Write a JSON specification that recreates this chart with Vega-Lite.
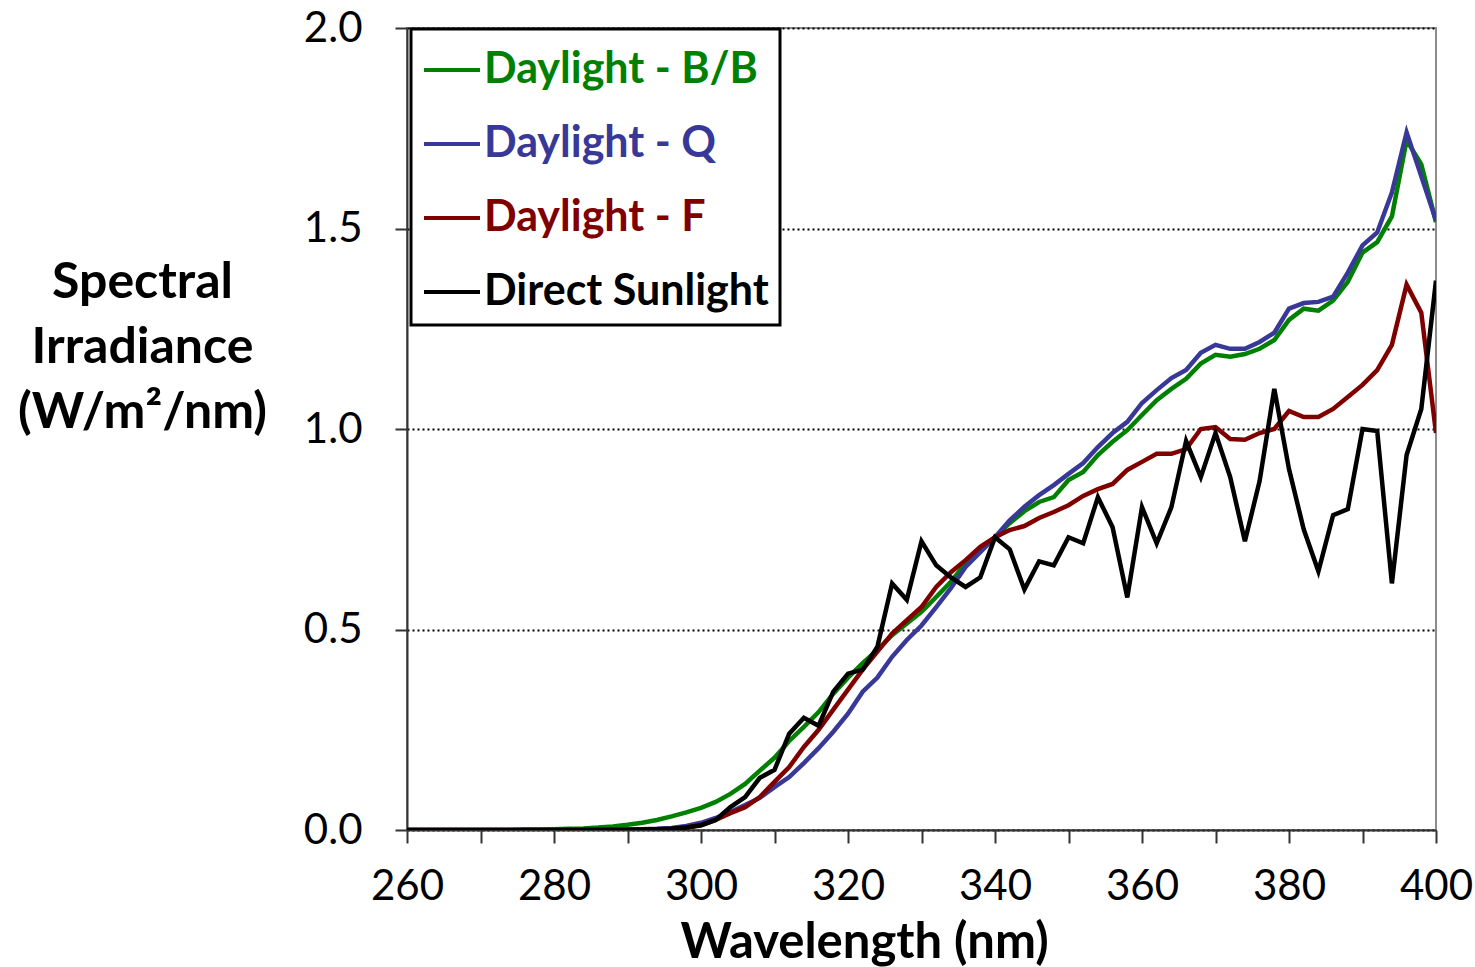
{
  "$schema": "https://vega.github.io/schema/vega-lite/v6.json",
  "autosize": "none",
  "width": 1029,
  "height": 802,
  "padding": {"left": 407, "top": 28, "right": 39, "bottom": 137},
  "background": "white",
  "config": {"view": {"stroke": "#8c8c8c", "strokeWidth": 2}, "font": "Lato"},
  "data": {"values": [
    {"wl":260,"BB":0,"Q":0,"F":0,"DS":0},
    {"wl":262,"BB":0,"Q":0,"F":0,"DS":0},
    {"wl":264,"BB":0,"Q":0,"F":0,"DS":0},
    {"wl":266,"BB":0,"Q":0,"F":0,"DS":0},
    {"wl":268,"BB":0,"Q":0,"F":0,"DS":0},
    {"wl":270,"BB":0,"Q":0,"F":0,"DS":0},
    {"wl":272,"BB":0,"Q":0,"F":0,"DS":0},
    {"wl":274,"BB":0,"Q":0,"F":0,"DS":0},
    {"wl":276,"BB":0.001,"Q":0,"F":0,"DS":0},
    {"wl":278,"BB":0.001,"Q":0,"F":0,"DS":0},
    {"wl":280,"BB":0.002,"Q":0,"F":0,"DS":0},
    {"wl":282,"BB":0.003,"Q":0,"F":0,"DS":0},
    {"wl":284,"BB":0.004,"Q":0,"F":0,"DS":0},
    {"wl":286,"BB":0.006,"Q":0.001,"F":0.001,"DS":0},
    {"wl":288,"BB":0.009,"Q":0.001,"F":0.001,"DS":0},
    {"wl":290,"BB":0.013,"Q":0.001,"F":0.001,"DS":0},
    {"wl":292,"BB":0.018,"Q":0.002,"F":0.002,"DS":0.001},
    {"wl":294,"BB":0.025,"Q":0.003,"F":0.002,"DS":0.002},
    {"wl":296,"BB":0.034,"Q":0.005,"F":0.003,"DS":0.003},
    {"wl":298,"BB":0.044,"Q":0.01,"F":0.006,"DS":0.006},
    {"wl":300,"BB":0.055,"Q":0.018,"F":0.012,"DS":0.012},
    {"wl":302,"BB":0.07,"Q":0.03,"F":0.025,"DS":0.025},
    {"wl":304,"BB":0.09,"Q":0.045,"F":0.042,"DS":0.057},
    {"wl":306,"BB":0.115,"Q":0.062,"F":0.057,"DS":0.082},
    {"wl":308,"BB":0.148,"Q":0.08,"F":0.082,"DS":0.13},
    {"wl":310,"BB":0.18,"Q":0.107,"F":0.12,"DS":0.15},
    {"wl":312,"BB":0.222,"Q":0.132,"F":0.157,"DS":0.24},
    {"wl":314,"BB":0.257,"Q":0.167,"F":0.207,"DS":0.28},
    {"wl":316,"BB":0.294,"Q":0.204,"F":0.25,"DS":0.26},
    {"wl":318,"BB":0.34,"Q":0.245,"F":0.3,"DS":0.345},
    {"wl":320,"BB":0.38,"Q":0.29,"F":0.35,"DS":0.39},
    {"wl":322,"BB":0.416,"Q":0.345,"F":0.4,"DS":0.4},
    {"wl":324,"BB":0.449,"Q":0.38,"F":0.445,"DS":0.457},
    {"wl":326,"BB":0.486,"Q":0.432,"F":0.49,"DS":0.615},
    {"wl":328,"BB":0.515,"Q":0.474,"F":0.523,"DS":0.574},
    {"wl":330,"BB":0.544,"Q":0.51,"F":0.556,"DS":0.72},
    {"wl":332,"BB":0.581,"Q":0.556,"F":0.606,"DS":0.66},
    {"wl":334,"BB":0.619,"Q":0.603,"F":0.643,"DS":0.63},
    {"wl":336,"BB":0.665,"Q":0.656,"F":0.673,"DS":0.606},
    {"wl":338,"BB":0.703,"Q":0.693,"F":0.706,"DS":0.63},
    {"wl":340,"BB":0.73,"Q":0.73,"F":0.73,"DS":0.73},
    {"wl":342,"BB":0.765,"Q":0.772,"F":0.748,"DS":0.7},
    {"wl":344,"BB":0.795,"Q":0.806,"F":0.758,"DS":0.6},
    {"wl":346,"BB":0.818,"Q":0.835,"F":0.778,"DS":0.67},
    {"wl":348,"BB":0.83,"Q":0.86,"F":0.793,"DS":0.66},
    {"wl":350,"BB":0.873,"Q":0.888,"F":0.81,"DS":0.73},
    {"wl":352,"BB":0.893,"Q":0.915,"F":0.833,"DS":0.715},
    {"wl":354,"BB":0.935,"Q":0.955,"F":0.85,"DS":0.83},
    {"wl":356,"BB":0.968,"Q":0.99,"F":0.863,"DS":0.755},
    {"wl":358,"BB":0.997,"Q":1.018,"F":0.898,"DS":0.58},
    {"wl":360,"BB":1.035,"Q":1.065,"F":0.918,"DS":0.805},
    {"wl":362,"BB":1.072,"Q":1.097,"F":0.938,"DS":0.715},
    {"wl":364,"BB":1.1,"Q":1.127,"F":0.938,"DS":0.805},
    {"wl":366,"BB":1.125,"Q":1.147,"F":0.95,"DS":0.97},
    {"wl":368,"BB":1.163,"Q":1.19,"F":1.0,"DS":0.88},
    {"wl":370,"BB":1.185,"Q":1.21,"F":1.005,"DS":0.99},
    {"wl":372,"BB":1.18,"Q":1.2,"F":0.975,"DS":0.88},
    {"wl":374,"BB":1.187,"Q":1.2,"F":0.973,"DS":0.72},
    {"wl":376,"BB":1.2,"Q":1.217,"F":0.99,"DS":0.87},
    {"wl":378,"BB":1.222,"Q":1.24,"F":1.0,"DS":1.1},
    {"wl":380,"BB":1.272,"Q":1.3,"F":1.045,"DS":0.9},
    {"wl":382,"BB":1.3,"Q":1.314,"F":1.03,"DS":0.75},
    {"wl":384,"BB":1.295,"Q":1.317,"F":1.03,"DS":0.645},
    {"wl":386,"BB":1.32,"Q":1.33,"F":1.05,"DS":0.785},
    {"wl":388,"BB":1.367,"Q":1.39,"F":1.08,"DS":0.8},
    {"wl":390,"BB":1.44,"Q":1.458,"F":1.11,"DS":1.0},
    {"wl":392,"BB":1.466,"Q":1.49,"F":1.147,"DS":0.995},
    {"wl":394,"BB":1.53,"Q":1.59,"F":1.21,"DS":0.615},
    {"wl":396,"BB":1.72,"Q":1.74,"F":1.36,"DS":0.935},
    {"wl":398,"BB":1.66,"Q":1.63,"F":1.29,"DS":1.05},
    {"wl":400,"BB":1.516,"Q":1.52,"F":0.99,"DS":1.37}
  ]},
  "transform": [
    {"fold": ["BB", "Q", "F", "DS"], "as": ["key", "v"]},
    {"lookup": "key", "from": {"data": {"values": [
      {"key": "BB", "series": "Daylight - B/B"},
      {"key": "Q", "series": "Daylight - Q"},
      {"key": "F", "series": "Daylight - F"},
      {"key": "DS", "series": "Direct Sunlight"}
    ]}, "key": "key", "fields": ["series"]}}
  ],
  "mark": {"type": "line", "strokeWidth": 4.5, "strokeJoin": "miter", "clip": true},
  "encoding": {
    "x": {
      "field": "wl", "type": "quantitative",
      "scale": {"domain": [260, 400], "nice": false, "zero": false},
      "axis": {
        "values": [260,270,280,290,300,310,320,330,340,350,360,370,380,390,400],
        "labelExpr": "datum.value % 20 === 0 ? datum.label : ''",
        "grid": false,
        "domainColor": "#333333", "domainWidth": 2,
        "tickColor": "#333333", "tickWidth": 2, "tickSize": 13,
        "labelFont": "Lato", "labelFontSize": 42, "labelColor": "black",
        "labelPadding": 23, "labelOverlap": false, "labelFlush": false,
        "title": "Wavelength (nm)",
        "titleFont": "Lato", "titleFontSize": 49, "titleFontWeight": "bold", "titleColor": "black",
        "titleX": 457, "titleY": 127, "titleAlign": "center", "titleBaseline": "alphabetic"
      }
    },
    "y": {
      "field": "v", "type": "quantitative",
      "scale": {"domain": [0, 2], "nice": false},
      "axis": {
        "values": [0, 0.5, 1, 1.5, 2],
        "format": ".1f",
        "grid": true, "gridColor": "black", "gridDash": [2, 3], "gridWidth": 2,
        "domainColor": "#333333", "domainWidth": 2,
        "tickColor": "#333333", "tickWidth": 2, "tickSize": 12,
        "labelFont": "Lato", "labelFontSize": 42, "labelColor": "black",
        "labelPadding": 33,
        "title": ["Spectral", "Irradiance", "(W/m²/nm)"],
        "titleFont": "Lato", "titleFontSize": 50, "titleFontWeight": "bold", "titleColor": "black",
        "titleAngle": 0, "titleX": -265, "titleY": 254, "titleAlign": "center", "titleBaseline": "middle",
        "titleLineHeight": 65
      }
    },
    "color": {
      "field": "series", "type": "nominal",
      "scale": {
        "domain": ["Daylight - B/B", "Daylight - Q", "Daylight - F", "Direct Sunlight"],
        "range": ["#008000", "#383898", "#800000", "#000000"]
      },
      "legend": {
        "title": null,
        "orient": "none", "legendX": 4, "legendY": 1,
        "fillColor": "white", "strokeColor": "black",
        "padding": 11,
        "symbolType": "stroke", "symbolSize": 3136, "symbolStrokeWidth": 4,
        "labelFont": "Lato", "labelFontSize": 43, "labelFontWeight": "bold",
        "labelOffset": 2, "rowPadding": 22,
        "labelLimit": 600,
        "encode": {
          "legend": {"update": {"strokeWidth": {"value": 3}}},
          "labels": {"update": {"fill": {"scale": "color", "field": "value"}}}
        }
      }
    },
    "order": {"field": "wl", "type": "quantitative"}
  }
}
